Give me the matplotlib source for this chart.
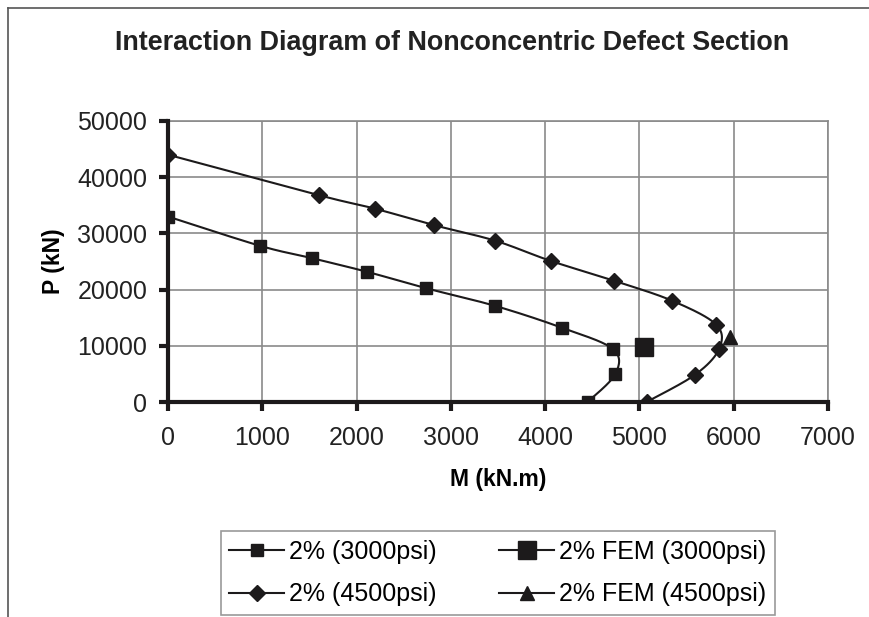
import numpy as np
import matplotlib
matplotlib.use("Agg")
import matplotlib.pyplot as plt
from matplotlib.lines import Line2D

plt.rcParams["font.family"] = ["Liberation Sans", "DejaVu Sans"]

# 2% (3000psi)
m_3000 = [0, 975, 1525, 2115, 2735, 3470, 4180, 4720, 4745, 4450]
p_3000 = [33000, 27800, 25600, 23150, 20250, 17100, 13200, 9400, 5000, 0]
# 2% FEM (3000psi)
m_fem_3000 = [5050]
p_fem_3000 = [9700]
# 2% (4500psi)
m_4500 = [0, 1600, 2195, 2825, 3470, 4060, 4735, 5350, 5815, 5845, 5590, 5075]
p_4500 = [44000, 36800, 34400, 31450, 28700, 25100, 21550, 18000, 13750, 9450, 4850, 0]
# 2% FEM (4500psi)
m_fem_4500 = [5965]
p_fem_4500 = [11500]

INK = "#1c1a1b"


def smooth(x, y, n=30):
    # Catmull-Rom curve through the points (Excel "smoothed line" look)
    pts = np.column_stack([x, y]).astype(float)
    pts = np.vstack([pts[0], pts, pts[-1]])
    out = []
    t = np.linspace(0, 1, n)[:, None]
    for i in range(1, len(pts) - 2):
        p0, p1, p2, p3 = pts[i - 1], pts[i], pts[i + 1], pts[i + 2]
        seg = 0.5 * ((2 * p1) + (-p0 + p2) * t
                     + (2 * p0 - 5 * p1 + 4 * p2 - p3) * t ** 2
                     + (-p0 + 3 * p1 - 3 * p2 + p3) * t ** 3)
        out.append(seg)
    out = np.vstack(out)
    return out[:, 0], out[:, 1]


fig = plt.figure(figsize=(8.69, 6.17), dpi=100)
ax = fig.add_axes([168 / 869, 1 - 402 / 617, 660 / 869, 281 / 617])

sx, sy = smooth(m_3000, p_3000)
ax.plot(sx, sy, color=INK, lw=1.5, zorder=3)
ax.plot(m_3000, p_3000, ls="none", marker="s", ms=8, color=INK, zorder=4)
ax.plot(m_fem_3000, p_fem_3000, ls="none", marker="s", ms=13, color=INK, zorder=4)
sx, sy = smooth(m_4500, p_4500)
ax.plot(sx, sy, color=INK, lw=1.5, zorder=3)
ax.plot(m_4500, p_4500, ls="none", marker="D", ms=8, color=INK, zorder=4)
ax.plot(m_fem_4500, p_fem_4500, ls="none", marker="^", ms=10, color=INK, zorder=4)

ax.set_xlim(0, 7000)
ax.set_ylim(0, 50000)
ax.set_xticks(np.arange(0, 7001, 1000))
ax.set_yticks(np.arange(0, 50001, 10000))
ax.grid(True, color="#8a8a8a", lw=1.2)
ax.set_axisbelow(True)
for s in ["top", "right"]:
    ax.spines[s].set_color("#8a8a8a")
    ax.spines[s].set_linewidth(1.2)
for s in ["left", "bottom"]:
    ax.spines[s].set_color(INK)
    ax.spines[s].set_linewidth(3)
    ax.spines[s].set_zorder(5)
ax.tick_params(direction="out", length=6.5, width=3, color=INK,
               labelsize=18, labelcolor="#222222", pad=8.5)
ax.tick_params(axis="x", pad=11)
ax.set_xlabel("M (kN.m)", fontsize=16.5, fontweight="bold", labelpad=13)
ax.set_ylabel("P (kN)", fontsize=16.5, fontweight="bold", labelpad=9)

fig.text(452 / 869, 1 - 43 / 617, "Interaction Diagram of Nonconcentric Defect Section",
         ha="center", va="center", fontsize=19.4, fontweight="bold", color="#222222")

handles = [
    Line2D([], [], color=INK, lw=1.5, marker="s", ms=8),
    Line2D([], [], color=INK, lw=1.5, marker="D", ms=8),
    Line2D([], [], color=INK, lw=1.5, marker="s", ms=13),
    Line2D([], [], color=INK, lw=1.5, marker="^", ms=10),
]
labels = ["2% (3000psi)", "2% (4500psi)", "2% FEM (3000psi)", "2% FEM (4500psi)"]
leg = fig.legend(handles, labels, loc="center",
                 bbox_to_anchor=(498 / 869, 1 - 573 / 617),
                 ncol=2, fontsize=18, frameon=True, fancybox=False,
                 edgecolor="#808080", handlelength=2.2, handletextpad=0.2,
                 columnspacing=2.5, labelspacing=0.75, borderpad=0.35,
                 borderaxespad=0)
leg.get_frame().set_linewidth(1.2)

# chart-area border (left and top edges visible)
fig.add_artist(Line2D([8 / 869, 8 / 869], [0, 1 - 8 / 617],
                      transform=fig.transFigure, color="#555555", lw=1.2))
fig.add_artist(Line2D([8 / 869, 1], [1 - 8 / 617, 1 - 8 / 617],
                      transform=fig.transFigure, color="#555555", lw=1.2))

fig.savefig("out.png", dpi=100)
